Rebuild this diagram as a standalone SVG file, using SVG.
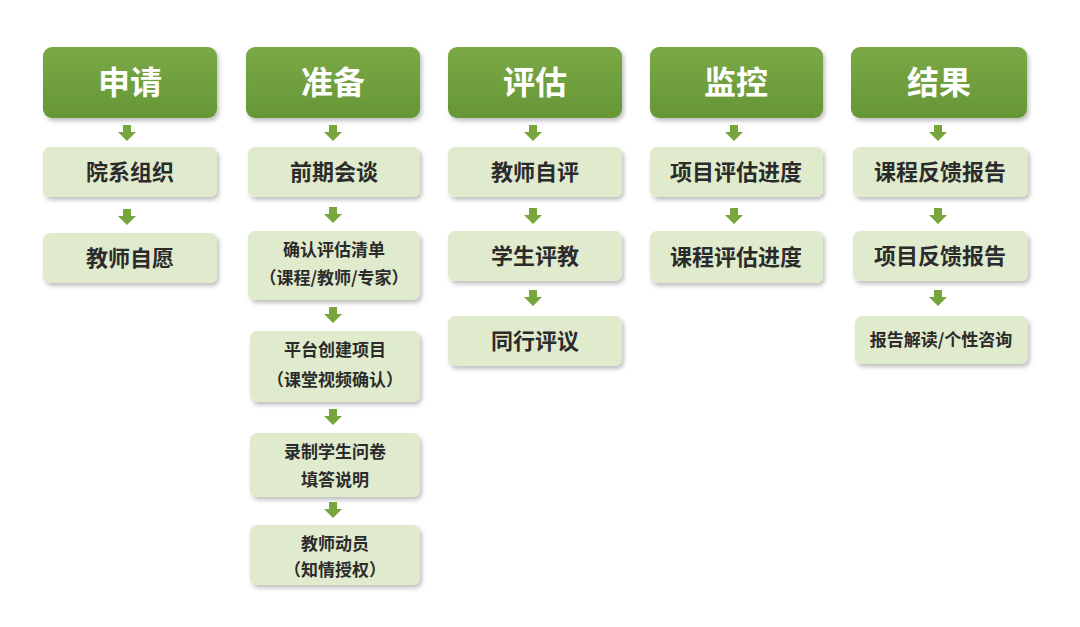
<svg xmlns="http://www.w3.org/2000/svg" width="1080" height="627" viewBox="0 0 1080 627">
<defs>
<linearGradient id="hg" x1="0" y1="0" x2="0" y2="1"><stop offset="0" stop-color="#7aa946"/><stop offset="1" stop-color="#669636"/></linearGradient>
<filter id="sh" x="-10%" y="-10%" width="130%" height="140%"><feDropShadow dx="2" dy="3" stdDeviation="2" flood-color="#000" flood-opacity="0.25"/></filter>
<path id="ar" d="M-4,0 h8 v7 h5 l-9,9 l-9,-9 h5 z" fill="#76a63c"/>
</defs>
<style>
.h{fill:url(#hg);filter:url(#sh)}
.b{fill:#e0eacd;filter:url(#sh)}
text{font-family:"Noto Sans CJK SC","Noto Sans",sans-serif;text-anchor:middle;font-weight:bold;fill:#2b2b2b}
.ht{fill:#fff;font-size:32px}
.t{font-size:22px}
.s{font-size:17px}
</style>
<rect width="1080" height="627" fill="#fff"/>
<g id="n1"><rect class="h" x="43" y="47" width="174" height="71" rx="9"/><text class="ht" x="130" y="94">申请</text></g>
<g id="n1a"><rect class="b" x="43" y="147" width="174" height="50" rx="7"/><text class="t" x="130" y="180">院系组织</text></g>
<g id="n1b"><rect class="b" x="43" y="233" width="174" height="50" rx="7"/><text class="t" x="130" y="266">教师自愿</text></g>
<g id="n2"><rect class="h" x="246" y="47" width="174" height="71" rx="9"/><text class="ht" x="333" y="94">准备</text></g>
<g id="n2a"><rect class="b" x="248" y="147" width="172" height="50" rx="7"/><text class="t" x="334" y="180">前期会谈</text></g>
<g id="n2b"><rect class="b" x="248" y="231" width="172" height="69" rx="7"/><text class="s" x="334" y="256">确认评估清单</text><text class="s" x="334" y="284">（课程/教师/专家）</text></g>
<g id="n2c"><rect class="b" x="250" y="331" width="170" height="71" rx="7"/><text class="s" x="335" y="356">平台创建项目</text><text class="s" x="335" y="386">（课堂视频确认）</text></g>
<g id="n2d"><rect class="b" x="250" y="433" width="170" height="64" rx="7"/><text class="s" x="335" y="458">录制学生问卷</text><text class="s" x="335" y="486">填答说明</text></g>
<g id="n2e"><rect class="b" x="250" y="525" width="170" height="60" rx="7"/><text class="s" x="335" y="550">教师动员</text><text class="s" x="335" y="576">（知情授权）</text></g>
<g id="n3"><rect class="h" x="448" y="47" width="174" height="71" rx="9"/><text class="ht" x="535" y="94">评估</text></g>
<g id="n3a"><rect class="b" x="448" y="147" width="174" height="50" rx="7"/><text class="t" x="535" y="180">教师自评</text></g>
<g id="n3b"><rect class="b" x="448" y="231" width="174" height="50" rx="7"/><text class="t" x="535" y="264">学生评教</text></g>
<g id="n3c"><rect class="b" x="448" y="316" width="174" height="50" rx="7"/><text class="t" x="535" y="349">同行评议</text></g>
<g id="n4"><rect class="h" x="650" y="47" width="173" height="71" rx="9"/><text class="ht" x="736" y="94">监控</text></g>
<g id="n4a"><rect class="b" x="650" y="147" width="173" height="50" rx="7"/><text class="t" x="736" y="180">项目评估进度</text></g>
<g id="n4b"><rect class="b" x="650" y="231" width="173" height="52" rx="7"/><text class="t" x="736" y="265">课程评估进度</text></g>
<g id="n5"><rect class="h" x="851" y="47" width="176" height="71" rx="9"/><text class="ht" x="939" y="94">结果</text></g>
<g id="n5a"><rect class="b" x="853" y="147" width="175" height="50" rx="7"/><text class="t" x="940" y="180">课程反馈报告</text></g>
<g id="n5b"><rect class="b" x="853" y="231" width="175" height="50" rx="7"/><text class="t" x="940" y="264">项目反馈报告</text></g>
<g id="n5c"><rect class="b" x="855" y="316" width="173" height="48" rx="7"/><text class="s" x="941" y="346">报告解读/个性咨询</text></g>
<g id="connectors">
<use href="#ar" x="127" y="125"/><use href="#ar" x="127" y="209"/>
<use href="#ar" x="333" y="125"/><use href="#ar" x="333" y="207"/><use href="#ar" x="333" y="307"/><use href="#ar" x="333" y="409"/><use href="#ar" x="333" y="502"/>
<use href="#ar" x="533" y="125"/><use href="#ar" x="533" y="208"/><use href="#ar" x="533" y="290"/>
<use href="#ar" x="734" y="125"/><use href="#ar" x="734" y="208"/>
<use href="#ar" x="938" y="125"/><use href="#ar" x="938" y="208"/><use href="#ar" x="938" y="290"/>
</g>
</svg>
